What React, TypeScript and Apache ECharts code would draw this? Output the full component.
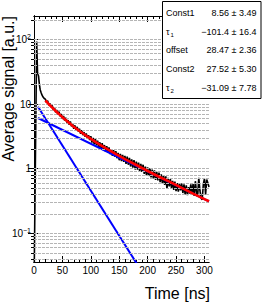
import { useEffect, useRef } from "react";
import * as echarts from "echarts";

// ---------- axis ranges / ticks ----------
const X_MIN = 0;
const X_MAX = 308;
const Y_MIN = 0.036;
const Y_MAX = 230;
const xMajorTicks = [0, 50, 100, 150, 200, 250, 300];
const xMinorTicks = [10, 20, 30, 40, 60, 70, 80, 90, 110, 120, 130, 140, 160, 170, 180, 190, 210, 220, 230, 240, 260, 270, 280, 290];
const yMajorTicks = [0.1, 1, 10, 100];
const yMinorTicks = [
  0.04, 0.05, 0.06, 0.07, 0.08, 0.09,
  0.2, 0.3, 0.4, 0.5, 0.6, 0.7, 0.8, 0.9,
  2, 3, 4, 5, 6, 7, 8, 9,
  20, 30, 40, 50, 60, 70, 80, 90,
  200,
];

// ---------- measured signal ----------
const pulseTime = [0, 4.7, 6.2, 7, 8, 9, 10, 11, 12.3, 14, 16, 18];
const pulseValue = [0.012, 93, 31, 29, 27, 22, 18.5, 16.5, 15.2, 13.8, 12.8, 12.2];
const tailStart = 20;
const tailStep = 2;
const tailValue = [
  11.9, 10.53, 11.24, 9.58, 10.24, 8.91, 9.53, 8.14, 8.88, 7.44,
  8.07, 6.97, 7.62, 6.46, 7.01, 5.88, 6.52, 5.54, 6.14, 5.17,
  5.63, 4.78, 5.36, 4.52, 4.98, 4.15, 4.68, 3.94, 4.44, 3.74,
  4.14, 3.46, 3.93, 3.3, 3.68, 3.11, 3.51, 2.91, 3.29, 2.78,
  3.18, 2.53, 2.99, 2.38, 2.89, 2.3, 2.72, 2.14, 2.56, 2.06,
  2.48, 1.94, 2.32, 1.83, 2.23, 1.78, 2.14, 1.68, 2.0, 1.58,
  1.94, 1.53, 1.86, 1.45, 1.75, 1.35, 1.69, 1.31, 1.63, 1.27,
  1.58, 1.19, 1.53, 1.15, 1.47, 1.08, 1.39, 1.04, 1.36, 0.97,
  1.29, 0.97, 1.24, 0.91, 1.19, 0.89, 1.15, 0.83, 1.08, 0.79,
  1.05, 0.77, 1.01, 0.73, 0.97, 0.71, 0.94, 0.67, 0.89, 0.66,
  0.87, 0.62, 0.82, 0.59, 0.79, 0.56, 0.76, 0.49, 0.72, 0.53,
  0.69, 0.5, 0.65, 0.47, 0.63, 0.45, 0.6, 0.44, 0.58, 0.46,
  0.59, 0.42, 0.57, 0.4, 0.55, 0.39, 0.52, 0.41, 0.57, 0.42,
  0.58, 0.38, 0.64, 0.43, 0.37, 0.72, 0.46, 0.35, 0.33, 0.57,
  0.7, 0.4, 0.68, 0.6, 0.52,
];

// ---------- fit (red) and its two components (blue) ----------
const fitTime = [20, 24, 28, 32, 36, 40, 46, 52, 60, 70, 80, 90, 100, 115, 130, 145, 160, 180, 200, 220, 240, 260, 280, 300, 308];
const fitValue = [11.34, 10.41, 9.57, 8.82, 8.15, 7.54, 6.73, 6.04, 5.26, 4.46, 3.83, 3.31, 2.89, 2.38, 1.98, 1.665, 1.41, 1.14, 0.92, 0.75, 0.62, 0.505, 0.412, 0.338, 0.313];
const slowTime = [7, 308];
const slowValue = [6.08, 0.313];
const fastTime = [7, 200];
const fastValue = [9.1, 0.0184];

// ---------- stat box ----------
const statNames = ["Const1", "τ", "offset", "Const2", "τ"];
const statSubs = ["", "1", "", "", "2"];
const statValues = ["8.56 ± 3.49", "−101.4 ± 16.4", "28.47 ± 2.36", "27.52 ± 5.30", "−31.09 ± 7.78"];

const FONT = "'Liberation Sans', Arial, Helvetica, sans-serif";

function zip(xs: number[], ys: number[]) {
  return xs.map((x, i) => [x, ys[i]]);
}

function buildOption() {
  const signal = [
    ...zip(pulseTime, pulseValue),
    ...tailValue.map((v, i) => [tailStart + i * tailStep, v]),
  ];
  const grid = { left: 34, top: 16, right: 53, bottom: 40, containLabel: false, outerBoundsMode: "none" };
  const line = { show: true, lineStyle: { color: "#000", width: 1 } };
  const xAx = (gridIndex: number, position: string, ticks: number[], len: number, labels: boolean) => ({
    type: "value",
    gridIndex,
    position,
    min: X_MIN,
    max: X_MAX,
    axisLine: line,
    axisTick: { show: true, inside: true, length: len, customValues: ticks, lineStyle: { color: "#000", width: 1 } },
    axisLabel: labels
      ? { show: true, customValues: xMajorTicks, color: "#000", fontSize: 10, fontFamily: FONT, margin: 3 }
      : { show: false },
    splitLine: { show: false },
  });
  const yAx = (gridIndex: number, position: string, ticks: number[], len: number, labels: boolean) => ({
    type: "log",
    logBase: 10,
    gridIndex,
    position,
    min: Y_MIN,
    max: Y_MAX,
    axisLine: line,
    axisTick: { show: true, inside: true, length: len, customValues: ticks, lineStyle: { color: "#000", width: 1 } },
    axisLabel: labels
      ? {
          show: true,
          customValues: yMajorTicks,
          margin: 3,
          formatter: (v: number) => {
            const e = Math.round(Math.log10(v));
            if (e === 0) return "{b|1}";
            if (e === 1) return "{b|10}";
            return "{b|10}{s|" + (e < 0 ? "−" + -e : String(e)) + "}";
          },
          rich: {
            b: { fontSize: 10, fontFamily: FONT, color: "#000", lineHeight: 13 },
            s: { fontSize: 7, fontFamily: FONT, color: "#000", verticalAlign: "top", lineHeight: 8 },
          },
        }
      : { show: false },
    splitLine: { show: false },
  });

  const graphics: any[] = [
    {
      type: "text",
      x: 8.5,
      y: 16,
      rotation: Math.PI / 2,
      style: {
        text: "Average signal [a.u.]",
        fontSize: 16,
        fontFamily: FONT,
        fill: "#000",
        align: "right",
        textAlign: "right",
        verticalAlign: "middle",
        textVerticalAlign: "middle",
      },
    },
    {
      type: "text",
      x: 210,
      y: 293,
      style: {
        text: "Time [ns]",
        fontSize: 16,
        fontFamily: FONT,
        fill: "#000",
        align: "right",
        textAlign: "right",
        verticalAlign: "middle",
        textVerticalAlign: "middle",
      },
    },
    {
      type: "rect",
      shape: { x: 162.5, y: 1.5, width: 98.5, height: 97 },
      style: { fill: "#fff", stroke: "#000", lineWidth: 1 },
    },
  ];
  statNames.forEach((name, i) => {
    const yc = 12.7 + 18.8 * i;
    graphics.push({
      type: "text",
      x: 166,
      y: yc,
      style: { text: name, fontSize: 9, fontFamily: FONT, fill: "#000", verticalAlign: "middle", textVerticalAlign: "middle" },
    });
    if (statSubs[i]) {
      graphics.push({
        type: "text",
        x: 170.5,
        y: yc + 3,
        style: { text: statSubs[i], fontSize: 6, fontFamily: FONT, fill: "#000", verticalAlign: "middle", textVerticalAlign: "middle" },
      });
    }
    graphics.push({
      type: "text",
      x: 256.5,
      y: yc,
      style: {
        text: statValues[i],
        fontSize: 9,
        fontFamily: FONT,
        fill: "#000",
        align: "right",
        textAlign: "right",
        verticalAlign: "middle",
        textVerticalAlign: "middle",
      },
    });
  });

  const gridValues = [...yMinorTicks, ...yMajorTicks];

  return {
    animation: false,
    backgroundColor: "#fff",
    grid: [grid, { ...grid }],
    xAxis: [
      xAx(0, "bottom", xMajorTicks, 6, true),
      xAx(0, "top", xMajorTicks, 6, false),
      xAx(1, "bottom", xMinorTicks, 3, false),
      xAx(1, "top", xMinorTicks, 3, false),
    ],
    yAxis: [
      yAx(0, "left", yMajorTicks, 6, true),
      yAx(0, "right", yMajorTicks, 6, false),
      yAx(1, "left", yMinorTicks, 3, false),
      yAx(1, "right", yMinorTicks, 3, false),
    ],
    series: [
      {
        type: "line",
        xAxisIndex: 0,
        yAxisIndex: 0,
        data: [[100, 1]],
        showSymbol: false,
        symbol: "none",
        lineStyle: { opacity: 0 },
        silent: true,
        z: 1,
        markLine: {
          silent: true,
          symbol: ["none", "none"],
          label: { show: false },
          lineStyle: { color: "#b5b5b5", type: [3, 1], width: 1 },
          data: gridValues.map((v) => ({ yAxis: v })),
        },
      },
      {
        type: "line",
        xAxisIndex: 0,
        yAxisIndex: 0,
        data: signal,
        showSymbol: false,
        symbol: "none",
        lineStyle: { color: "#000", width: 1.6 },
        z: 3,
      },
      {
        type: "line",
        xAxisIndex: 0,
        yAxisIndex: 0,
        data: zip(fastTime, fastValue),
        showSymbol: false,
        symbol: "none",
        lineStyle: { color: "#0000ff", width: 2 },
        z: 4,
      },
      {
        type: "line",
        xAxisIndex: 0,
        yAxisIndex: 0,
        data: zip(slowTime, slowValue),
        showSymbol: false,
        symbol: "none",
        lineStyle: { color: "#0000ff", width: 2 },
        z: 4,
      },
      {
        type: "line",
        xAxisIndex: 0,
        yAxisIndex: 0,
        data: zip(fitTime, fitValue),
        showSymbol: false,
        symbol: "none",
        lineStyle: { color: "#ff0000", width: 2.6 },
        z: 5,
      },
    ],
    graphic: { elements: graphics.map((g) => ({ ...g, z: 100 })) },
  };
}

export default function App() {
  const ref = useRef<HTMLDivElement>(null);
  useEffect(() => {
    if (!ref.current) return;
    const chart = echarts.init(ref.current, null, { renderer: "svg" });
    chart.setOption(buildOption() as any);
    return () => chart.dispose();
  }, []);
  return (
    <div
      ref={ref}
      style={{ position: "fixed", left: 0, top: 0, width: 262, height: 302, background: "#fff" }}
    />
  );
}
